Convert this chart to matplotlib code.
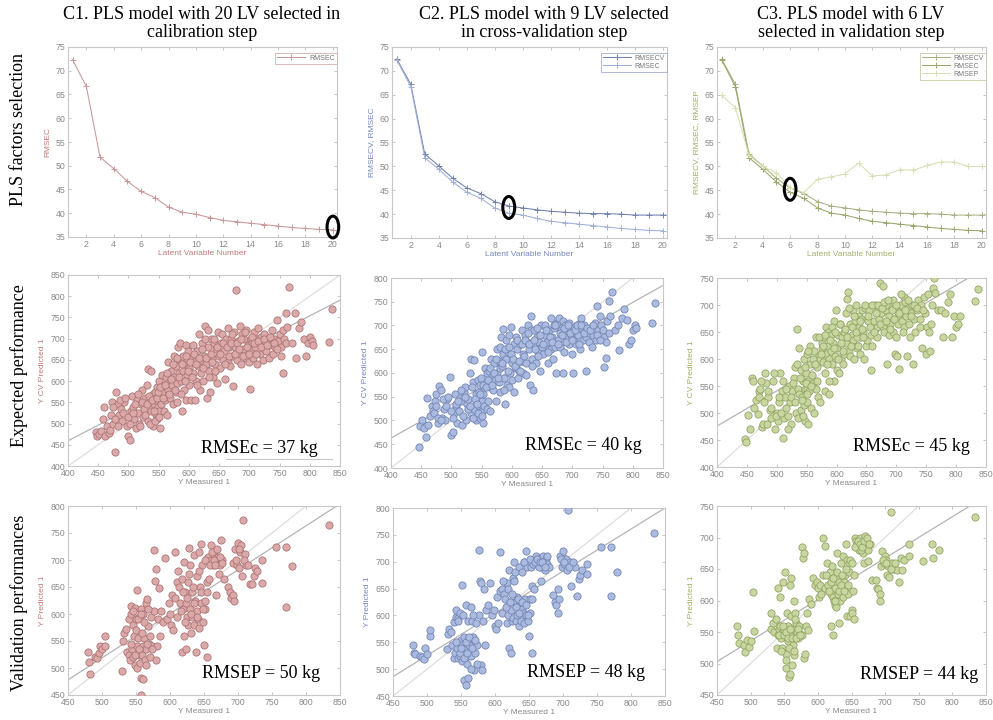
import matplotlib
matplotlib.use("Agg")
import matplotlib.pyplot as plt
from matplotlib.patches import Ellipse

# ---------------- data ----------------
lv = list(range(1, 21))
rmsec = [72.3, 66.7, 51.8, 49.4, 46.7, 44.6, 43.3, 41.3, 40.2, 39.8,
         39.1, 38.5, 38.2, 37.9, 37.6, 37.3, 37.0, 36.8, 36.6, 36.5]
rmsecv = [72.5, 67.2, 52.6, 50.1, 47.5, 45.5, 44.3, 42.6, 41.7, 41.3,
          40.9, 40.6, 40.4, 40.2, 40.1, 40.1, 40.0, 39.8, 39.8, 39.8]
rmsep = [64.9, 62.3, 52.3, 50.0, 48.7, 45.5, 44.5, 47.3, 47.8, 48.4,
         50.7, 48.0, 48.2, 49.3, 49.2, 50.2, 50.9, 50.9, 50.0, 50.0]

circle_lv = [20, 9, 6]
circle_rmse = [37.1, 41.4, 45.2]

cal_measured = [
    447, 448, 452, 455, 458, 460, 462, 465, 468, 470, 472, 475, 477, 480, 482, 485, 488, 490, 493, 497,
    500, 502, 504, 506, 508, 510, 512, 514, 516, 518, 520, 522, 524, 526, 528, 530, 532, 533, 535, 537,
    538, 540, 541, 543, 544, 545, 546, 547, 548, 549, 550, 550,
    551, 552, 553, 554, 555, 556, 558, 559, 560, 562, 563, 565, 566, 568, 569, 570, 572, 573, 575, 576,
    578, 579, 580, 581, 582, 583, 585, 586, 587, 588, 590, 591, 592, 594, 595, 596, 597, 599,
    600, 601, 603, 604, 606, 607, 609, 610, 612, 613, 615, 616, 618, 619, 620, 622, 623, 625, 627, 628,
    630, 631, 632, 634, 635, 637, 638, 640, 641, 643, 645, 646, 648, 649,
    651, 653, 655, 657, 658, 660, 662, 664, 665, 667, 668, 670, 671, 673, 675, 677, 678, 680, 682, 684,
    685, 687, 688, 690, 692, 694, 695, 697, 699, 701,
    702, 703, 705, 706, 708, 710, 712, 713, 715, 717, 718, 720, 722, 723, 725, 727, 728, 730, 732, 735,
    737, 739, 741, 743, 746, 748,
    750, 752, 753, 755, 756, 758, 760, 761, 763, 765, 770, 775, 778, 782, 786, 790, 793, 797,
    800, 803, 806, 831, 836,
    471, 474, 478, 483, 486, 491, 495, 499, 503, 507, 511, 515, 519, 523, 527, 531, 534, 536, 539, 542,
    544, 547, 549, 551, 553,
    557, 561, 564, 567, 571, 574, 577, 580, 584, 587, 589, 593, 596, 598, 602, 605, 608, 611, 614, 617,
    621, 624, 626, 629, 633, 636, 639, 642, 644, 647,
    652, 656, 659, 663, 666, 669, 672, 676, 679, 683, 686, 689, 693, 696, 700, 704, 707, 711, 714, 719,
    724, 729, 734, 740, 745]
cal_pred_c1 = [
    480, 470, 475, 482, 510, 540, 470, 495, 478, 485, 550, 500, 432, 575, 545, 520, 535, 505, 550, 495,
    470, 462, 530, 565, 540, 510, 490, 555, 525, 500, 545, 580, 515, 535, 560, 590, 505, 628, 550, 625,
    530, 570, 495, 545, 575, 520, 555, 585, 510, 540, 565, 530,
    600, 490, 560, 545, 615, 575, 530, 590, 555, 610, 520, 580, 645, 600, 560, 625, 590, 545, 660, 610,
    575, 635, 595, 550, 680, 620, 650, 690, 600, 530, 660, 625, 580, 640, 685, 555, 615, 670,
    630, 590, 655, 555, 685, 620, 645, 555, 600, 670, 635, 710, 580, 650, 620, 690, 600, 660, 730, 640,
    560, 720, 680, 625, 575, 700, 655, 610, 690, 640, 675, 595, 715, 660,
    630, 690, 710, 650, 670, 605, 700, 645, 725, 680, 635, 700, 660, 589, 715, 680, 814, 650, 695, 730,
    665, 640, 710, 675, 700, 655, 720, 685, 645, 582,
    700, 670, 690, 655, 715, 680, 700, 640, 725, 690, 665, 705, 680, 650, 710, 690, 670, 700, 655, 685,
    720, 665, 700, 680, 745, 695,
    710, 680, 660, 720, 619, 700, 690, 760, 728, 822, 690, 760, 655, 725, 740, 700, 660, 690,
    705, 695, 685, 693, 771,
    520, 540, 510, 495, 555, 525, 560, 515, 500, 525, 545, 570, 495, 550, 520, 545, 565, 500, 555, 530,
    505, 560, 575, 515, 585,
    560, 590, 620, 570, 605, 640, 580, 655, 610, 570, 640, 600, 660, 625, 645, 610, 665, 640, 590, 655,
    675, 630, 700, 655, 610, 665, 645, 700, 625, 680,
    665, 690, 640, 680, 660, 690, 710, 665, 690, 675, 700, 660, 715, 680, 665, 705, 690, 665, 695, 680,
    700, 685, 705, 690, 675]
cal_pred_c2 = [
    444, 488, 500, 485, 465, 548, 490, 510, 530, 520, 540, 555, 495, 572, 565, 505, 525, 500, 545, 591,
    470, 475, 515, 555, 530, 495, 520, 548, 540, 490, 560, 570, 500, 535, 545, 600, 515, 629, 580, 627,
    525, 555, 500, 540, 585, 530, 560, 575, 505, 550, 540, 520,
    645, 495, 555, 530, 610, 580, 525, 600, 540, 605, 520, 570, 630, 595, 565, 620, 585, 540, 650, 600,
    580, 625, 610, 560, 675, 615, 640, 692, 590, 535, 670, 630, 575, 645, 680, 570, 600, 696,
    620, 585, 660, 560, 675, 610, 650, 590, 605, 660, 625, 690, 600, 640, 635, 680, 595, 665, 700, 650,
    575, 690, 719, 630, 565, 690, 660, 620, 675, 645, 665, 605, 700, 655,
    640, 680, 700, 660, 665, 620, 690, 650, 715, 675, 630, 695, 655, 600, 705, 670, 715, 655, 690, 710,
    601, 645, 700, 675, 690, 660, 705, 680, 640, 601,
    695, 670, 685, 660, 700, 680, 705, 650, 715, 690, 670, 700, 675, 604, 690, 685, 665, 695, 655, 680,
    705, 670, 742, 690, 720, 700,
    690, 675, 613, 665, 632, 710, 685, 752, 720, 770, 690, 700, 648, 715, 735, 712, 660, 670,
    690, 700, 695, 706, 747,
    515, 530, 505, 500, 545, 530, 550, 520, 505, 535, 540, 565, 510, 550, 525, 530, 570, 505, 545, 535,
    515, 555, 590, 510, 575,
    570, 585, 610, 575, 600, 630, 590, 655, 620, 565, 650, 605, 655, 640, 630, 615, 670, 625, 605, 660,
    670, 620, 685, 660, 615, 670, 650, 695, 635, 680,
    660, 690, 645, 675, 665, 700, 700, 660, 685, 680, 695, 665, 700, 685, 670, 690, 700, 660, 700, 685,
    695, 690, 700, 680, 670]
cal_pred_c3 = [
    451, 446, 497, 470, 564, 560, 510, 525, 498, 540, 545, 475, 480, 575, 555, 530, 505, 490, 560, 470,
    500, 485, 520, 575, 540, 454, 490, 530, 510, 495, 550, 520, 480, 540, 565, 585, 500, 655, 545, 620,
    535, 580, 505, 530, 560, 515, 600, 545, 485, 575, 520, 545,
    610, 480, 560, 540, 625, 590, 510, 570, 555, 615, 500, 545, 640, 585, 530, 605, 600, 520, 630, 620,
    595, 640, 575, 540, 660, 610, 625, 650, 600, 535, 645, 615, 590, 630, 670, 560, 605, 690,
    620, 580, 645, 575, 665, 600, 640, 590, 610, 650, 630, 685, 711, 725, 615, 665, 605, 645, 690, 635,
    600, 670, 700, 620, 640, 680, 660, 610, 675, 690, 650, 600, 695, 625,
    635, 670, 690, 645, 580, 625, 670, 655, 700, 660, 640, 690, 675, 741, 685, 660, 735, 650, 690, 700,
    590, 645, 680, 665, 695, 650, 710, 610, 640, 605,
    680, 665, 582, 690, 700, 670, 715, 660, 705, 680, 605, 695, 665, 640, 685, 700, 590, 675, 650, 690,
    710, 660, 700, 620, 715, 685,
    610, 660, 720, 650, 615, 665, 700, 731, 750, 722, 690, 690, 640, 685, 705, 720, 640, 680,
    660, 665, 680, 707, 730,
    530, 560, 520, 480, 540, 510, 575, 495, 530, 500, 560, 545, 470, 530, 555, 520, 590, 490, 565, 525,
    495, 585, 555, 535, 615,
    550, 600, 590, 560, 640, 610, 625, 645, 590, 560, 635, 660, 620, 650, 600, 665, 630, 615, 655, 640,
    695, 625, 660, 680, 650, 625, 670, 655, 640, 700,
    680, 660, 700, 650, 685, 700, 665, 695, 705, 670, 710, 655, 690, 675, 700, 685, 720, 650, 690, 710,
    680, 700, 695, 675, 690]

val_measured = [
    480, 481, 482, 490, 492, 495, 497, 500, 504, 505,
    530, 531, 533, 535, 537, 539, 540, 541, 542, 543, 544, 545, 546, 547, 548, 549, 550, 551, 552, 552,
    553, 554, 555, 556, 557, 558, 558, 559, 560, 560,
    561, 562, 563, 564, 565, 566, 567, 569, 570, 572, 574, 576, 577, 578, 579, 580, 581, 582, 584, 585,
    587, 590, 593, 595, 598,
    600, 601, 603, 605, 607, 608, 610, 611, 613, 615, 617, 618, 619, 620, 621, 622, 623, 624, 625, 626,
    627, 628, 629, 630, 631, 632, 633, 635, 636, 637, 638, 639, 640, 641, 642, 643, 644, 645, 646, 647,
    648, 650, 651, 652, 653, 654, 655, 656, 658,
    660, 661, 663, 665, 667, 668, 670, 672, 674, 675, 677, 680, 686, 688, 690, 692, 693, 694, 696, 698,
    700, 701, 703, 705, 706, 708, 710, 712, 718, 720, 724, 725, 728, 736, 736,
    756, 770, 771, 780, 834,
    542, 545, 548, 550, 553, 555, 557, 559, 562, 564, 566, 568, 570, 573,
    612, 616, 619, 622, 625, 628, 631, 634, 636, 639, 642, 645, 648, 651, 655, 659,
    662, 664, 666, 669, 673, 676, 697, 702, 709, 715]
val_pred_c1 = [
    530, 512, 489, 520, 518, 528, 540, 535, 540, 559,
    495, 550, 565, 572, 530, 525, 590, 515, 600, 615, 535, 580, 520, 560, 612, 505, 590, 644, 500, 540,
    555, 525, 595, 510, 482, 450, 610, 525, 540, 600,
    480, 555, 515, 620, 535, 627, 578, 545, 520, 595, 540, 718, 605, 662, 515, 683, 540, 590, 648, 560,
    605, 585, 703, 590, 620,
    600, 580, 635, 570, 714, 630, 595, 660, 650, 620, 530, 665, 610, 560, 697, 640, 535, 620, 595, 660,
    580, 723, 610, 690, 565, 640, 595, 710, 580, 625, 530, 670, 605, 590, 715, 575, 650, 620, 729, 690,
    585, 542, 610, 625, 700, 520, 660, 705, 665,
    728, 700, 690, 710, 695, 635, 705, 675, 690, 737, 700, 665, 650, 640, 630, 695, 635, 625, 720, 690,
    732, 685, 715, 728, 670, 775, 712, 690, 655, 656, 670, 685, 680, 700, 657,
    725, 725, 613, 689, 765,
    545, 605, 525, 570, 590, 535, 600, 565, 585, 505, 545, 610, 560, 535,
    680, 605, 640, 585, 630, 675, 600, 650, 620, 595, 680, 640, 610, 700, 640, 690,
    715, 700, 690, 720, 705, 695, 700, 720, 700, 690]
val_pred_c2 = [
    545, 530, 528, 525, 522, 518, 540, 528, 561, 573,
    537, 565, 575, 570, 545, 520, 588, 530, 598, 610, 540, 595, 520, 550, 605, 525, 555, 657, 515, 545,
    530, 480, 560, 540, 522, 470, 620, 510, 555, 590,
    483, 545, 530, 615, 525, 590, 560, 498, 530, 585, 545, 722, 600, 665, 508, 660, 498, 590, 650, 545,
    610, 620, 660, 600, 610,
    580, 575, 635, 585, 719, 645, 605, 650, 640, 630, 585, 660, 600, 540, 685, 625, 530, 610, 590, 670,
    595, 700, 625, 680, 590, 635, 600, 690, 580, 625, 590, 680, 612, 605, 700, 585, 630, 600, 720, 690,
    590, 561, 605, 630, 690, 530, 655, 695, 650,
    710, 700, 695, 705, 690, 665, 710, 700, 685, 705, 695, 690, 638, 625, 620, 650, 605, 630, 710, 690,
    720, 695, 705, 705, 685, 797, 700, 655, 690, 637, 668, 675, 685, 695, 678,
    727, 727, 636, 681, 753,
    550, 590, 530, 540, 600, 520, 550, 530, 560, 500, 540, 600, 555, 510,
    665, 615, 650, 625, 640, 665, 615, 630, 605, 625, 700, 620, 600, 705, 630, 700,
    705, 690, 700, 700, 690, 710, 705, 700, 690, 700]
val_pred_c3 = [
    560, 545, 533, 530, 518, 537, 526, 535, 614, 552,
    555, 580, 565, 550, 570, 525, 620, 545, 555, 605, 560, 540, 525, 548, 630, 550, 553, 646, 515, 505,
    493, 580, 560, 535, 478, 483, 625, 545, 575, 635,
    498, 555, 530, 600, 514, 580, 565, 550, 540, 560, 547, 685, 545, 667, 508, 675, 515, 560, 580, 553,
    602, 595, 636, 625, 630,
    620, 605, 625, 610, 700, 640, 620, 686, 660, 625, 640, 645, 610, 560, 654, 605, 545, 600, 593, 620,
    590, 635, 675, 610, 565, 630, 600, 660, 625, 670, 605, 630, 640, 620, 690, 575, 665, 610, 660, 645,
    575, 585, 580, 615, 640, 570, 700, 695, 690,
    685, 680, 700, 690, 675, 660, 702, 685, 662, 680, 690, 632, 632, 620, 618, 610, 600, 655, 678, 660,
    670, 665, 640, 655, 638, 741, 660, 650, 648, 630, 668, 648, 665, 690, 670,
    663, 690, 668, 680, 732,
    545, 520, 560, 545, 550, 540, 525, 555, 540, 520, 570, 540, 555, 545,
    640, 615, 630, 635, 600, 645, 615, 625, 640, 615, 650, 625, 665, 660, 685, 695,
    690, 680, 685, 695, 700, 690, 665, 660, 650, 660]

# regression fits (slope, intercept)
cal_fit_slope = [0.736, 0.714, 0.652]
cal_fit_icpt = [165.0, 177.4, 215.0]
val_fit_slope = [0.815, 0.785, 0.657]
val_fit_icpt = [111.3, 132.8, 207.4]

cal_text = ["RMSEc = 37 kg", "RMSEc = 40 kg", "RMSEc = 45 kg"]
val_text = ["RMSEP = 50 kg", "RMSEP = 48 kg", "RMSEP = 44 kg"]
titles = ["C1. PLS model with 20 LV selected in\ncalibration step",
          "C2. PLS model with 9 LV selected\nin cross-validation step",
          "C3. PLS model with 6 LV\nselected in validation step"]
row_labels = ["PLS factors selection", "Expected performance", "Validation performances"]

# ---------------- style ----------------
W, H = 993, 720
fig = plt.figure(figsize=(W / 100, H / 100), dpi=100)
SERIF = "Liberation Serif"
SANS = "Liberation Sans"
TICKC = "#8a8a8a"
SPINEC = "#c8c8c8"

face = ["#dba9a9", "#abbbdf", "#c8d7a0"]
edge = ["#ad7474", "#7385b5", "#94a466"]
labc = ["#c27a7a", "#7486c0", "#a6ad6c"]
legc = ["#d4a8a8", "#9aa8cc", "#c2c8a0"]


def rect(l, t, r, b):
    return [l / W, 1 - b / H, (r - l) / W, (b - t) / H]


def style(ax, xlim, ylim, xticks, yticks):
    ax.set_xlim(*xlim)
    ax.set_ylim(*ylim)
    ax.set_xticks(xticks)
    ax.set_yticks(yticks)
    for s in ax.spines.values():
        s.set_color(SPINEC)
        s.set_linewidth(0.8)
    ax.tick_params(direction="in", length=2.5, width=0.6, color="#bbbbbb",
                   labelsize=6.3, labelcolor=TICKC, top=True, right=True, pad=2)
    for lab in ax.get_xticklabels() + ax.get_yticklabels():
        lab.set_fontfamily(SANS)


top_rects = [rect(68, 47, 337, 237), rect(392, 47, 667, 238), rect(717, 47, 986, 238)]
mid_rects = [rect(68, 275, 340, 466), rect(391, 278, 663, 468), rect(717, 278, 986, 467)]
bot_rects = [rect(68, 506, 340, 695), rect(393, 508, 665, 696), rect(717, 506, 986, 695)]

# ---------------- top row ----------------
top_series = [
    [("RMSEC", rmsec, "#c99797")],
    [("RMSECV", rmsecv, "#7382ad"), ("RMSEC", rmsec, "#a0b0d8")],
    [("RMSECV", rmsecv, "#aab083"), ("RMSEC", rmsec, "#97a86a"), ("RMSEP", rmsep, "#d6e0b4")],
]
top_ylabels = ["RMSEC", "RMSECV, RMSEC", "RMSECV, RMSEC, RMSEP"]

for i in range(3):
    ax = fig.add_axes(top_rects[i])
    for name, vals, col in top_series[i]:
        ax.plot(lv, vals, color=col, lw=0.75, marker="+", ms=4, mew=0.7, label=name)
    style(ax, (0.66, 20.3), (35, 75), range(2, 21, 2), range(35, 76, 5))
    ax.set_xlabel("Latent Variable Number", fontsize=6, color=labc[i], family=SANS, labelpad=1)
    ax.set_ylabel(top_ylabels[i], fontsize=6, color=labc[i], family=SANS, labelpad=3)
    leg = ax.legend(loc="upper right", bbox_to_anchor=(1.0, 0.97), borderaxespad=0,
                    handlelength=4, frameon=True, fancybox=False,
                    borderpad=0.3, labelspacing=0.15, handletextpad=0.6,
                    prop={"family": SANS, "size": 5})
    leg.get_frame().set_edgecolor(legc[i])
    leg.get_frame().set_linewidth(0.7)
    for t in leg.get_texts():
        t.set_color("#777777")
    ax.add_patch(Ellipse((circle_lv[i], circle_rmse[i]), 0.85, 4.6, fill=False,
                         ec="black", lw=2.2, clip_on=False, zorder=5))
    title_x = [202, 544, 851][i] / W
    fig.text(title_x, 1 - 6 / H, titles[i], ha="center", va="top", fontsize=13,
             family=SERIF, linespacing=1.05)

# ---------------- middle row ----------------
cal_preds = [cal_pred_c1, cal_pred_c2, cal_pred_c3]
mid_ylims = [(400, 850), (400, 800), (400, 750)]
text_pos_mid = [(0.92, 0.068), (0.923, 0.095), (0.94, 0.085)]
for i in range(3):
    ax = fig.add_axes(mid_rects[i])
    lo, hi = 400, 850
    ax.plot([lo, hi], [lo, hi], color="#e2dcdc", lw=0.9, zorder=1)
    ax.plot([lo, hi], [cal_fit_slope[i] * lo + cal_fit_icpt[i], cal_fit_slope[i] * hi + cal_fit_icpt[i]],
            color="#b4b4b4", lw=0.9, zorder=1)
    ax.scatter(cal_measured, cal_preds[i], s=27, c=face[i], edgecolors=edge[i],
               linewidths=0.6, zorder=3)
    style(ax, (400, 850), mid_ylims[i], range(400, 851, 50),
          range(mid_ylims[i][0], mid_ylims[i][1] + 1, 50))
    ax.set_xlabel("Y Measured 1", fontsize=6, color=TICKC, family=SANS, labelpad=1)
    ax.set_ylabel("Y CV Predicted 1", fontsize=6, color=labc[i], family=SANS, labelpad=3)
    ax.text(text_pos_mid[i][0], text_pos_mid[i][1], cal_text[i], transform=ax.transAxes,
            ha="right", va="baseline", fontsize=13, family=SERIF, zorder=6)
    if i == 0:
        ax.plot([0.58, 0.97], [0.037, 0.037], transform=ax.transAxes, color="#c8c8c8", lw=0.8)

# ---------------- bottom row ----------------
val_preds = [val_pred_c1, val_pred_c2, val_pred_c3]
bot_ylims = [(450, 800), (450, 800), (450, 750)]
text_pos_bot = [(0.926, 0.09), (0.926, 0.10), (0.97, 0.085)]
for i in range(3):
    ax = fig.add_axes(bot_rects[i])
    lo, hi = 450, 850
    ax.plot([lo, hi], [lo, hi], color="#e2dcdc", lw=0.9, zorder=1)
    ax.plot([lo, hi], [val_fit_slope[i] * lo + val_fit_icpt[i], val_fit_slope[i] * hi + val_fit_icpt[i]],
            color="#b4b4b4", lw=0.9, zorder=1)
    ax.scatter(val_measured, val_preds[i], s=27, c=face[i], edgecolors=edge[i],
               linewidths=0.6, zorder=3)
    style(ax, (450, 850), bot_ylims[i], range(450, 851, 50),
          range(bot_ylims[i][0], bot_ylims[i][1] + 1, 50))
    ax.set_xlabel("Y Measured 1", fontsize=6, color=TICKC, family=SANS, labelpad=1)
    ax.set_ylabel("Y Predicted 1", fontsize=6, color=labc[i], family=SANS, labelpad=3)
    ax.text(text_pos_bot[i][0], text_pos_bot[i][1], val_text[i], transform=ax.transAxes,
            ha="right", va="baseline", fontsize=13, family=SERIF, zorder=6)

# ---------------- row labels ----------------
row_centers = [130, 366, 603]
for lab, yc in zip(row_labels, row_centers):
    fig.text(19 / W, 1 - yc / H, lab, rotation=90, ha="center", va="center",
             fontsize=13, family=SERIF)

fig.savefig("out.png", dpi=100)
